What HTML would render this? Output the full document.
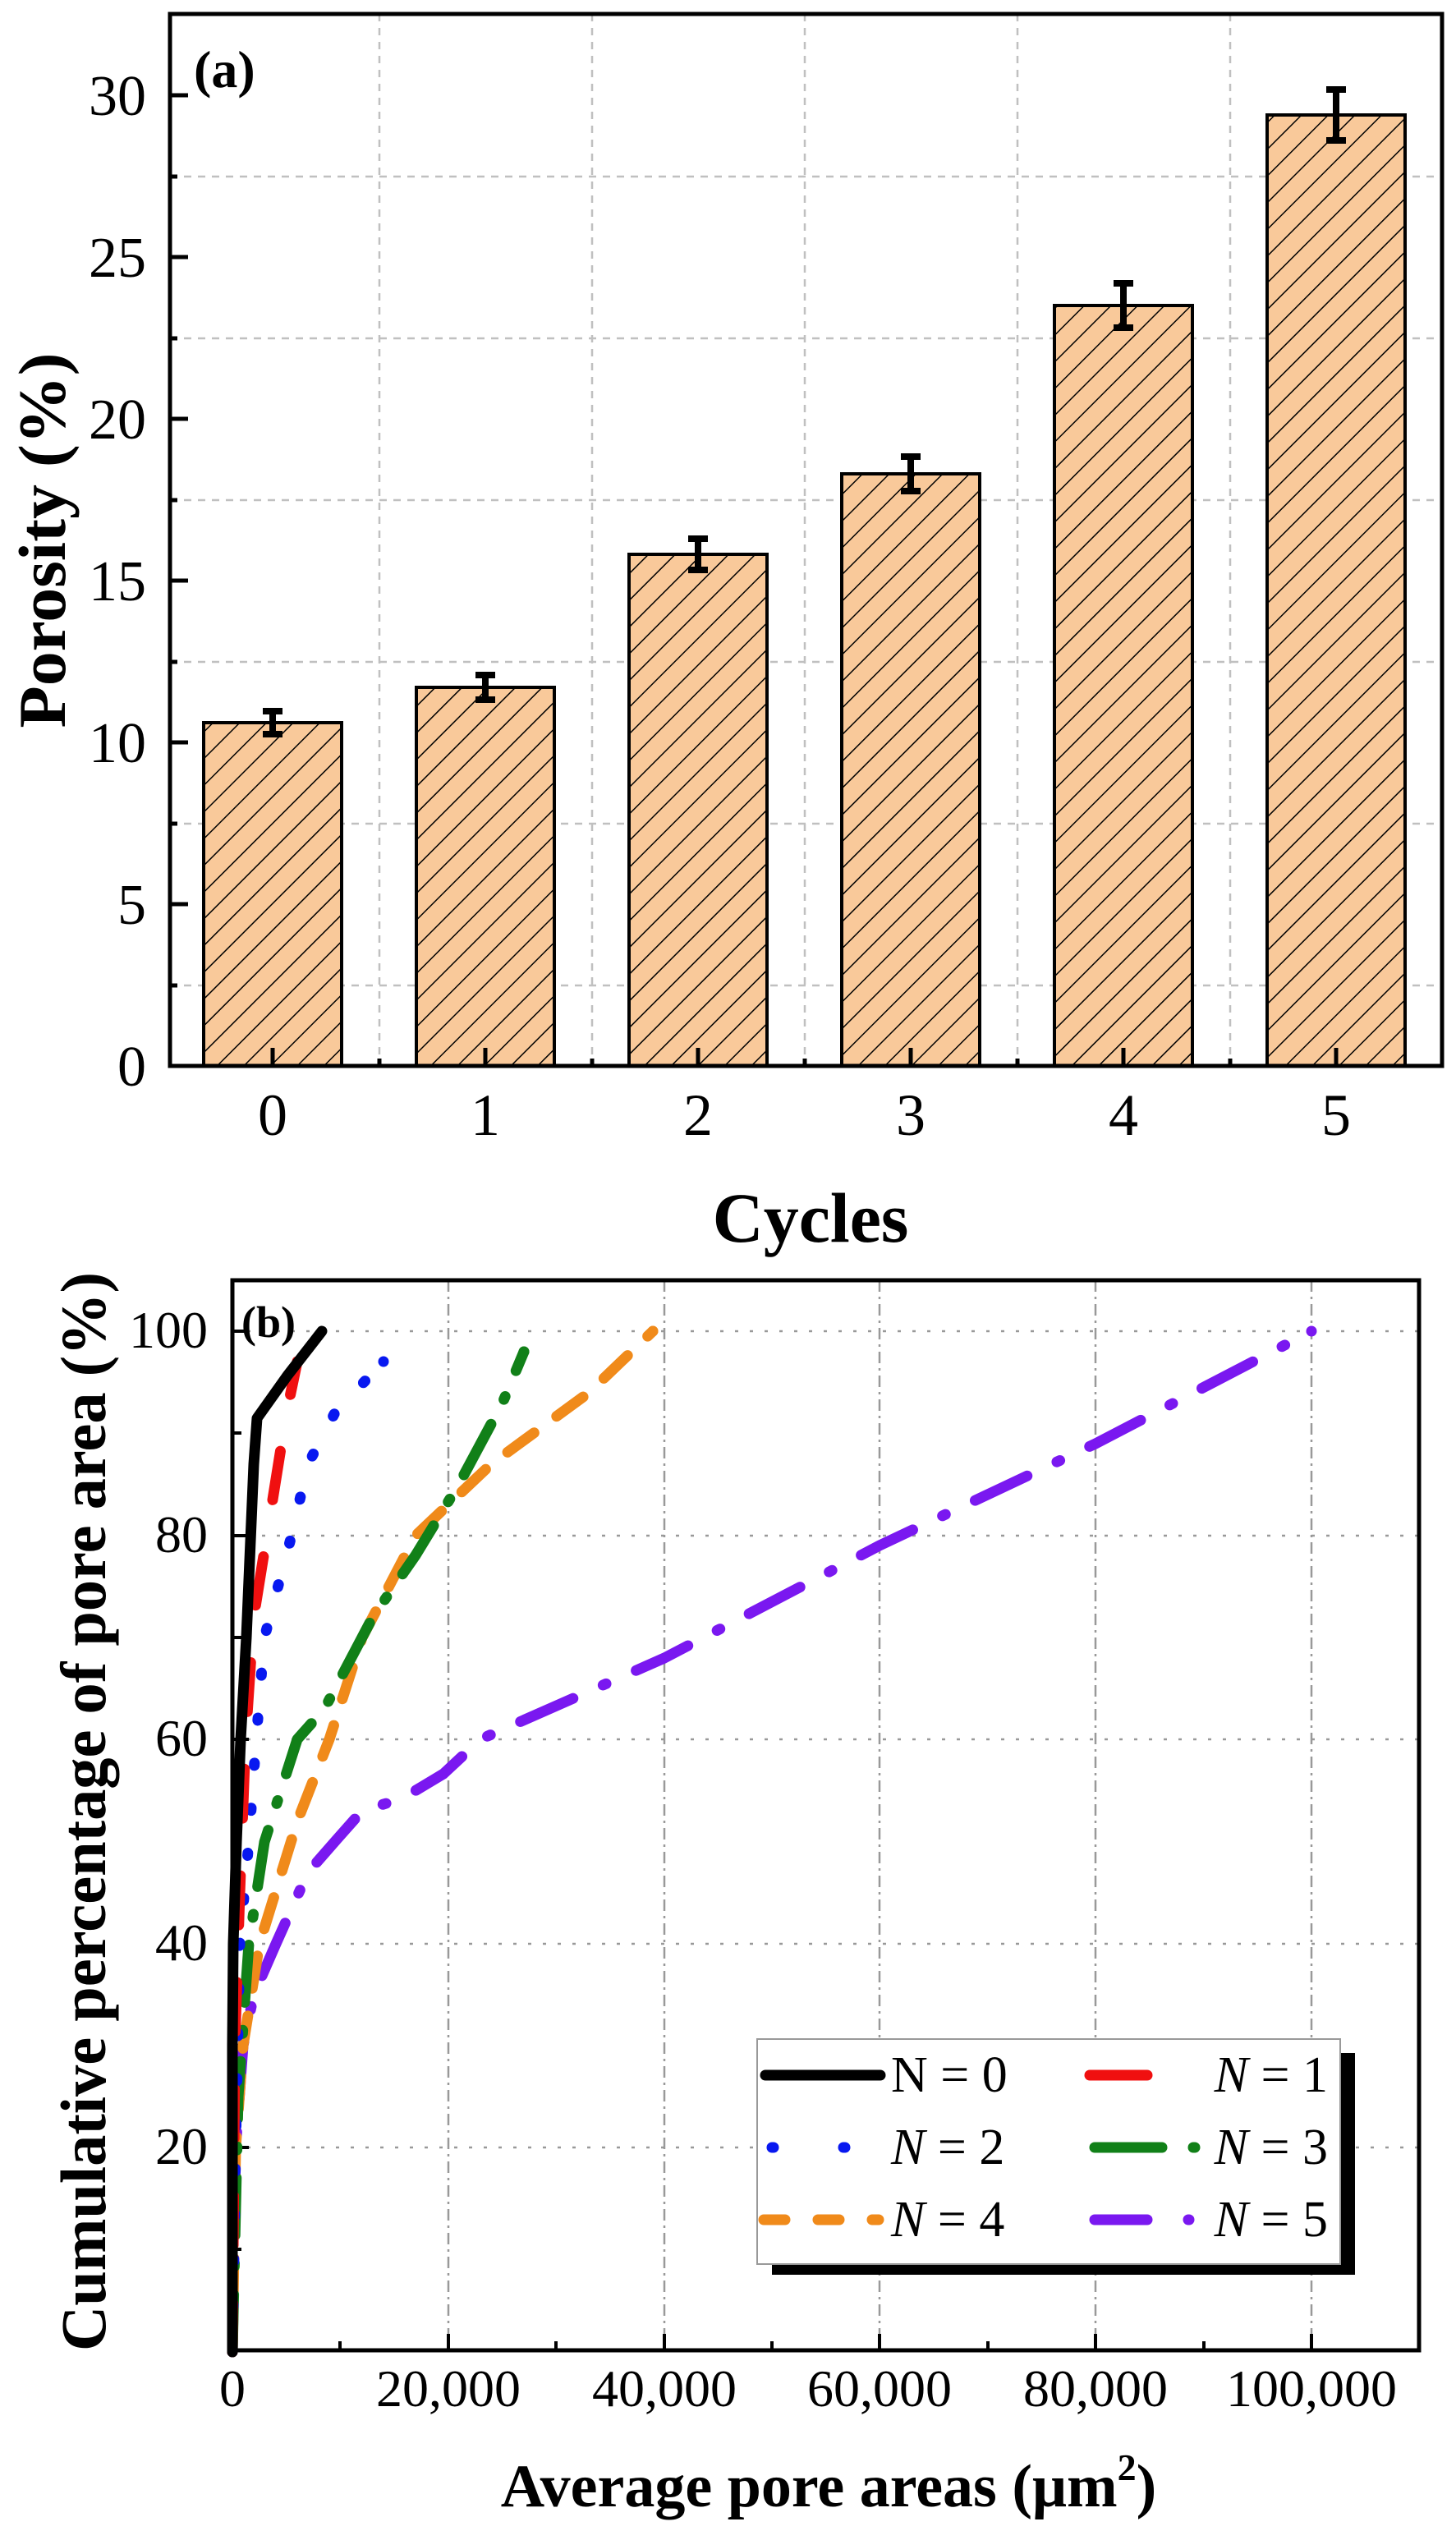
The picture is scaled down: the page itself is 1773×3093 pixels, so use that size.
<!DOCTYPE html>
<html><head><meta charset="utf-8"><style>
html,body{margin:0;padding:0;background:#fff}
svg{display:block}
text{font-family:"Liberation Serif","Times New Roman",serif;fill:#000}
</style></head><body>
<svg width="1773" height="3093" viewBox="0 0 1773 3093" xmlns="http://www.w3.org/2000/svg">
<defs>
<pattern id="hatch" patternUnits="userSpaceOnUse" width="23" height="23" patternTransform="rotate(45)">
<rect width="23" height="23" fill="#F9C99A"/>
<line x1="0" y1="0" x2="0" y2="23" stroke="#000" stroke-width="3"/>
</pattern>
</defs>
<rect width="1773" height="3093" fill="#fff"/>

<!-- ===== Panel (a) ===== -->
<g stroke="#c0c0c0" stroke-width="2.5" stroke-dasharray="9,8" fill="none">
<line x1="207" x2="1756" y1="1200" y2="1200"/>
<line x1="207" x2="1756" y1="1003" y2="1003"/>
<line x1="207" x2="1756" y1="806" y2="806"/>
<line x1="207" x2="1756" y1="609" y2="609"/>
<line x1="207" x2="1756" y1="412" y2="412"/>
<line x1="207" x2="1756" y1="215" y2="215"/>
<line x1="462" x2="462" y1="17" y2="1298"/>
<line x1="721" x2="721" y1="17" y2="1298"/>
<line x1="980" x2="980" y1="17" y2="1298"/>
<line x1="1239" x2="1239" y1="17" y2="1298"/>
<line x1="1498" x2="1498" y1="17" y2="1298"/>
</g>
<g stroke="#000" stroke-width="4" fill="url(#hatch)">
<rect x="248" y="880" width="168" height="418"/>
<rect x="507" y="837" width="168" height="461"/>
<rect x="766" y="675" width="168" height="623"/>
<rect x="1025" y="577" width="168" height="721"/>
<rect x="1284" y="372" width="168" height="926"/>
<rect x="1543" y="140" width="168" height="1158"/>
</g>
<g stroke="#000" stroke-width="8" fill="none">
<path d="M332 866V894M320 866H344M320 894H344"/>
<path d="M591 822V852M579 822H603M579 852H603"/>
<path d="M850 656V694M838 656H862M838 694H862"/>
<path d="M1109 556V598M1097 556H1121M1097 598H1121"/>
<path d="M1368 345V399M1356 345H1380M1356 399H1380"/>
<path d="M1627 109V171M1615 109H1639M1615 171H1639"/>
</g>
<g stroke="#000" stroke-width="5">
<path d="M207 116h22M207 313h22M207 510h22M207 707h22M207 904h22M207 1101h22"/>
<path d="M207 215h9M207 412h9M207 609h9M207 806h9M207 1003h9M207 1200h9"/>
<path d="M332 1298v-22M591 1298v-22M850 1298v-22M1109 1298v-22M1368 1298v-22M1627 1298v-22"/>
<path d="M462 1298v-9M721 1298v-9M980 1298v-9M1239 1298v-9M1498 1298v-9"/>
</g>
<rect x="207" y="17" width="1549" height="1281" fill="none" stroke="#000" stroke-width="5"/>
<g font-size="70" text-anchor="end">
<text x="178" y="140">30</text>
<text x="178" y="337">25</text>
<text x="178" y="534">20</text>
<text x="178" y="731">15</text>
<text x="178" y="928">10</text>
<text x="178" y="1125">5</text>
<text x="178" y="1322">0</text>
</g>
<g font-size="72" text-anchor="middle">
<text x="332" y="1382">0</text>
<text x="591" y="1382">1</text>
<text x="850" y="1382">2</text>
<text x="1109" y="1382">3</text>
<text x="1368" y="1382">4</text>
<text x="1627" y="1382">5</text>
</g>
<text x="236" y="106" font-size="64" font-weight="bold">(a)</text>
<text x="987" y="1512" font-size="86" font-weight="bold" text-anchor="middle">Cycles</text>
<text transform="translate(79,658) rotate(-90)" font-size="82" font-weight="bold" text-anchor="middle" textLength="457" lengthAdjust="spacingAndGlyphs">Porosity (%)</text>

<!-- ===== Panel (b) ===== -->
<g stroke="#999" stroke-width="2.5" fill="none">
<g stroke-dasharray="4,14">
<line x1="283" x2="1728" y1="2615" y2="2615"/>
<line x1="283" x2="1728" y1="2367" y2="2367"/>
<line x1="283" x2="1728" y1="2118" y2="2118"/>
<line x1="283" x2="1728" y1="1870" y2="1870"/>
<line x1="283" x2="1728" y1="1621" y2="1621"/>
</g>
<g stroke-dasharray="14,6,3,6">
<line x1="546" x2="546" y1="1559" y2="2862"/>
<line x1="809" x2="809" y1="1559" y2="2862"/>
<line x1="1071" x2="1071" y1="1559" y2="2862"/>
<line x1="1334" x2="1334" y1="1559" y2="2862"/>
<line x1="1597" x2="1597" y1="1559" y2="2862"/>
</g>
</g>
<g stroke="#000" stroke-width="4">
<path d="M546 2862v-20M809 2862v-20M1071 2862v-20M1334 2862v-20M1597 2862v-20"/>
<path d="M414 2862v-11M677 2862v-11M940 2862v-11M1203 2862v-11M1466 2862v-11"/>
<path d="M283 2615h20M283 2367h20M283 2118h20M283 1870h20M283 1621h20"/>
<path d="M283 2739h11M283 2491h11M283 2243h11M283 1994h11M283 1745h11"/>
</g>
<g fill="none" stroke-width="13" stroke-linecap="round" stroke-linejoin="round">
<polyline stroke="#7a18f0" stroke-dasharray="70,40,4,40" points="283,2864 287,2615 296,2491 309,2429 336,2367 375,2280 410,2240 441,2205 490,2190 540,2160 585,2118 809,2019 1071,1882 1334,1758 1597,1621"/>
<line x1="1597" y1="1621" x2="1597" y2="1621" stroke="#7a18f0"/>
<polyline stroke="#f08a1a" stroke-dasharray="40,34" points="283,2864 287,2615 296,2491 316,2367 362,2218 401,2118 441,1994 506,1870 598,1783 717,1696 795,1621"/>
<line x1="795" y1="1621" x2="795" y2="1621" stroke="#f08a1a"/>
<polyline stroke="#118018" stroke-dasharray="70,34,4,34" points="283,2864 290,2553 303,2367 322,2243 362,2118 395,2081 454,1969 506,1894 559,1807 612,1708 638,1646"/>
<line x1="638" y1="1646" x2="638" y2="1646" stroke="#118018"/>
<polyline stroke="#0818f0" stroke-dasharray="3,52" points="283,2864 287,2615 292,2367 303,2243 312,2118 322,1994 355,1870 375,1783 408,1720 467,1658"/>
<line x1="467" y1="1658" x2="467" y2="1658" stroke="#0818f0"/>
<polyline stroke="#f01010" stroke-dasharray="60,70" points="283,2864 286,2491 292,2305 299,2118 309,1969 329,1845 349,1720 362,1658"/>
<polyline stroke="#000" points="283,2864 283,2491 284,2367 288,2243 293,2118 300,1994 309,1783 313,1727 350,1675 392,1621"/>
</g>
<rect x="283" y="1559" width="1445" height="1303" fill="none" stroke="#000" stroke-width="5"/>
<g font-size="64" text-anchor="end">
<text x="253" y="1641">100</text>
<text x="253" y="1890">80</text>
<text x="253" y="2138">60</text>
<text x="253" y="2387">40</text>
<text x="253" y="2635">20</text>
</g>
<g font-size="64" text-anchor="middle">
<text x="283" y="2930">0</text>
<text x="546" y="2930">20,000</text>
<text x="809" y="2930">40,000</text>
<text x="1071" y="2930">60,000</text>
<text x="1334" y="2930">80,000</text>
<text x="1597" y="2930">100,000</text>
</g>
<text x="294" y="1628" font-size="54" font-weight="bold">(b)</text>
<text x="1009" y="3052" font-size="74" font-weight="bold" text-anchor="middle">Average pore areas (μm<tspan font-size="46" dy="-32">2</tspan><tspan dy="32">)</tspan></text>
<text transform="translate(128,2206) rotate(-90)" font-size="78" font-weight="bold" text-anchor="middle" textLength="1314" lengthAdjust="spacingAndGlyphs">Cumulative percentage of pore area (%)</text>

<!-- legend -->
<rect x="940" y="2500" width="710" height="270" fill="#000"/>
<rect x="922" y="2483" width="710" height="274" fill="#fff" stroke="#999" stroke-width="2"/>
<g stroke-width="13" stroke-linecap="round" fill="none">
<line x1="932" y1="2527" x2="1072" y2="2527" stroke="#000"/>
<line x1="1327" y1="2527" x2="1397" y2="2527" stroke="#f01010"/>
<line x1="940" y1="2615" x2="1030" y2="2615" stroke="#0818f0" stroke-dasharray="2,85"/>
<line x1="1333" y1="2615" x2="1478" y2="2615" stroke="#118018" stroke-dasharray="82,38,2,40"/>
<line x1="930" y1="2703" x2="1070" y2="2703" stroke="#f08a1a" stroke-dasharray="26,40"/>
<line x1="1333" y1="2703" x2="1448" y2="2703" stroke="#7a18f0" stroke-dasharray="64,50,2,40"/>
</g>
<g font-size="62">
<text x="1085" y="2547">N = 0</text>
<text x="1085" y="2635"><tspan font-style="italic">N</tspan> = 2</text>
<text x="1085" y="2723"><tspan font-style="italic">N</tspan> = 4</text>
<text x="1617" y="2547" text-anchor="end"><tspan font-style="italic">N</tspan> = 1</text>
<text x="1617" y="2635" text-anchor="end"><tspan font-style="italic">N</tspan> = 3</text>
<text x="1617" y="2723" text-anchor="end"><tspan font-style="italic">N</tspan> = 5</text>
</g>
</svg>
</body></html>
